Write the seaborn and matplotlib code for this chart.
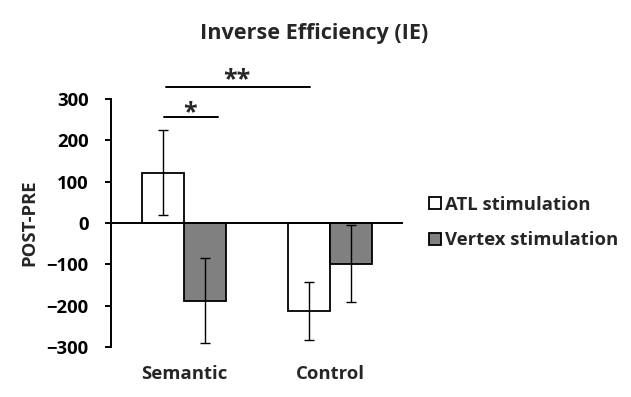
import matplotlib
matplotlib.use("Agg")
import matplotlib.pyplot as plt
import matplotlib.patches as mpatches
import numpy as np
import pandas as pd
import seaborn as sns

conditions = ["Semantic", "Control"]
stimulations = ["ATL stimulation", "Vertex stimulation"]
atl_means = [122, -213]
atl_errors = [103, 71]
vertex_means = [-188, -99]
vertex_errors = [103, 93]
bar_colors = ["white", "#808080"]
y_ticks = [300, 200, 100, 0, -100, -200, -300]


def main():
    sns.set_theme(style="white")
    plt.rcParams['font.family'] = ['Open Sans', 'DejaVu Sans']
    plt.rcParams['font.weight'] = 'bold'
    fs = 13.3

    df = pd.DataFrame({
        "condition": conditions * 2,
        "stimulation": [stimulations[0]] * 2 + [stimulations[1]] * 2,
        "value": atl_means + vertex_means,
        "err": atl_errors + vertex_errors,
    })

    fig = plt.figure(figsize=(6.31, 3.97), dpi=100)
    ax = fig.add_axes([111 / 631, 1 - 347 / 397, 292 / 631, 248 / 397])

    sns.barplot(data=df, x="condition", y="value", hue="stimulation",
                order=conditions, hue_order=stimulations, palette=bar_colors,
                edgecolor="black", linewidth=1.3, width=0.575, errorbar=None,
                legend=False, ax=ax, zorder=2)

    # error bars on top of each bar
    for container, stim in zip(ax.containers, stimulations):
        sub = df[df["stimulation"] == stim].set_index("condition").loc[conditions]
        xs = [b.get_x() + b.get_width() / 2 for b in container]
        ax.errorbar(xs, sub["value"], yerr=sub["err"], fmt="none", ecolor="black",
                    elinewidth=1.0, capsize=3.5, capthick=1.0, zorder=3)

    ax.axhline(0, color="black", lw=1.4, zorder=4)
    ax.set_xlim(-0.5, 1.5)
    ax.set_ylim(-300, 300)
    ax.set_yticks(y_ticks)
    for s in ["top", "right", "bottom"]:
        ax.spines[s].set_visible(False)
    ax.spines["left"].set_color("black")
    ax.spines["left"].set_linewidth(1.4)
    ax.tick_params(axis="y", left=True, length=4.5, width=1.4, pad=11.5,
                   labelsize=fs, colors="black")
    ax.tick_params(axis="x", bottom=False, length=0, pad=13, labelsize=fs)
    for lab in ax.get_xticklabels() + ax.get_yticklabels():
        lab.set_fontweight("bold")
    ax.set_xlabel("")
    ax.set_ylabel("POST-PRE", fontsize=fs, fontweight="bold", labelpad=6)

    # significance markers
    ax.plot([-0.137, 0.231], [257, 257], color="black", lw=1.4, clip_on=False)
    ax.text(0.04, 252, "*", ha="center", va="baseline", fontsize=18, fontweight="bold")
    ax.plot([-0.125, 0.863], [330, 330], color="black", lw=1.4, clip_on=False)
    ax.text(0.36, 331, "**", ha="center", va="baseline", fontsize=18, fontweight="bold")

    fig.text(0.498, 1 - 39.3 / 397, "Inverse Efficiency (IE)", ha="center",
             va="baseline", fontsize=15.6, fontweight="bold")

    handles = [mpatches.Patch(facecolor=c, edgecolor="black", linewidth=1.3)
               for c in bar_colors]
    fig.legend(handles, stimulations, loc="center left",
               bbox_to_anchor=(429 / 631, 1 - 222.5 / 397), frameon=False,
               prop={"size": fs, "weight": "bold"}, handlelength=0.65,
               handleheight=0.65, handletextpad=0.2, labelspacing=0.95,
               borderpad=0, borderaxespad=0)

    fig.savefig("out.png", dpi=100, facecolor="white")


if __name__ == "__main__":
    main()
